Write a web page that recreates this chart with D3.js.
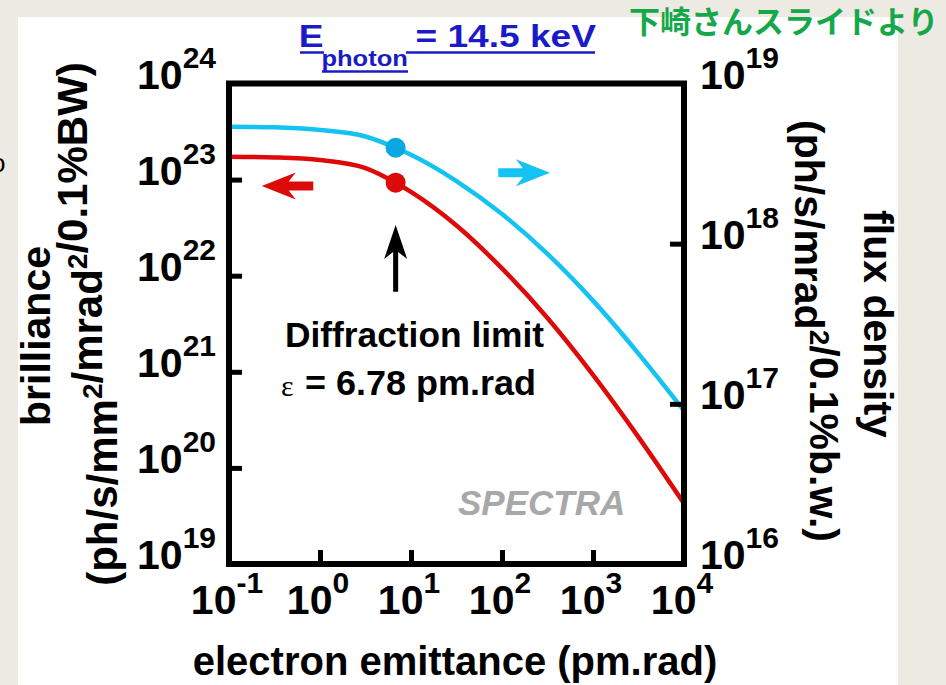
<!DOCTYPE html>
<html><head><meta charset="utf-8">
<script src="https://cdn.jsdelivr.net/npm/d3@7"></script>
<style>html,body{margin:0;padding:0;background:#edeae3;} svg{display:block;}</style>
</head><body>
<svg id="chart" width="946" height="685"></svg>
<script>
// ---- data ----
const emittance   = [0.1, 0.316, 1, 3.16, 6.78, 10, 31.6, 100, 316, 1000, 3160, 10000];      // pm.rad
const brilliance  = [1.73e23, 1.70e23, 1.60e23, 1.32e23, 9.29e22, 7.45e22, 3.33e22, 1.19e22, 3.63e21, 9.29e20, 2.09e20, 4.26e19];
const fluxDensity = [5.37e18, 5.33e18, 5.13e18, 4.67e18, 3.97e18, 3.59e18, 2.46e18, 1.53e18, 8.63e17, 4.41e17, 2.06e17, 9.06e16];
const diffractionLimit = 6.78;
const xTickExp = [-1, 0, 1, 2, 3, 4];
const leftTickExp = [19, 20, 21, 22, 23, 24];
const rightTickExp = [16, 17, 18, 19];

const RED = "#dd0a0a", CYAN = "#14c3f2", CYAN_DOT = "#0aa8e2", BLUE = "#1a1ac8", GREEN = "#15a84a";
const FONT = "'Liberation Sans', Arial, sans-serif";

const svg = d3.select("#chart").attr("font-family", FONT).attr("font-weight", "bold");

// background panel
svg.append("rect").attr("x", 0).attr("y", 0).attr("width", 946).attr("height", 685).attr("fill", "#edeae3");
svg.append("rect").attr("x", 18).attr("y", 17).attr("width", 880).attr("height", 668).attr("fill", "#ffffff");
// stray glyph from neighbouring slide content
svg.append("text").attr("x", -9).attr("y", 172).attr("font-size", 26).attr("font-weight", "normal").attr("fill", "#000").text("o");

const L = 229, R = 684, T = 83.5, B = 564;
const x = d3.scaleLog().domain([0.1, 1e4]).range([L, R]);
const yL = d3.scaleLog().domain([1e19, 1e24]).range([B, T]);
const yR = d3.scaleLog().domain([1e16, 1e19]).range([B, T]);

const pts = emittance.map((e, i) => ({e, b: brilliance[i], f: fluxDensity[i]}));

// curves
const lineB = d3.line().x(d => x(d.e)).y(d => yL(d.b)).curve(d3.curveMonotoneX);
const lineF = d3.line().x(d => x(d.e)).y(d => yR(d.f)).curve(d3.curveMonotoneX);
svg.append("path").attr("d", lineF(pts)).attr("fill", "none").attr("stroke", CYAN).attr("stroke-width", 4.5);
svg.append("path").attr("d", lineB(pts)).attr("fill", "none").attr("stroke", RED).attr("stroke-width", 4.5);

// ticks via d3 axes (inward)
const tickStyle = g => { g.select(".domain").remove(); g.selectAll(".tick line").attr("stroke", "#000").attr("stroke-width", 5); g.selectAll(".tick text").remove(); };
svg.append("g").attr("transform", `translate(${L},0)`)
  .call(d3.axisLeft(yL).tickValues(leftTickExp.slice(1, -1).map(p => Math.pow(10, p))).tickSize(-13)).call(tickStyle);
svg.append("g").attr("transform", `translate(${R},0)`)
  .call(d3.axisRight(yR).tickValues(rightTickExp.slice(1, -1).map(p => Math.pow(10, p))).tickSize(-14)).call(tickStyle);
svg.append("g").attr("transform", `translate(0,${B})`)
  .call(d3.axisBottom(x).tickValues(xTickExp.slice(1, -1).map(p => Math.pow(10, p))).tickSize(-14)).call(tickStyle);

// frame
svg.append("rect").attr("x", L).attr("y", T).attr("width", R - L).attr("height", B - T)
  .attr("fill", "none").attr("stroke", "#000").attr("stroke-width", 6);

// dots at diffraction limit
const dl = pts.find(d => d.e === diffractionLimit);
svg.append("circle").attr("cx", x(dl.e)).attr("cy", yR(dl.f)).attr("r", 10).attr("fill", CYAN_DOT);
svg.append("circle").attr("cx", x(dl.e)).attr("cy", yL(dl.b)).attr("r", 10).attr("fill", RED);

// power-of-ten labels
function powLabel(px, py, exp, anchor) {
  const t = svg.append("text").attr("x", px).attr("y", py).attr("text-anchor", anchor).attr("font-size", 41).attr("fill", "#000");
  t.append("tspan").text("10");
  t.append("tspan").attr("dy", -21).attr("font-size", 30).text(exp);
}
leftTickExp.forEach(p => powLabel(216, yL(Math.pow(10, p)) + 5, p, "end"));
rightTickExp.forEach(p => powLabel(700, yR(Math.pow(10, p)) + 5, p, "start"));
xTickExp.forEach(p => powLabel(x(Math.pow(10, p)) - 2, 614, p, "middle"));

// axis titles
svg.append("text").attr("x", 455).attr("y", 675).attr("text-anchor", "middle").attr("font-size", 40).text("electron emittance (pm.rad)");

function rotLabel(cx, cy, angle, parts, size) {
  const t = svg.append("text").attr("transform", `translate(${cx},${cy}) rotate(${angle})`)
    .attr("text-anchor", "middle").attr("font-size", size);
  parts.forEach(([s, sup]) => {
    if (sup) { t.append("tspan").attr("dy", -15).attr("font-size", 28).text(s); t.append("tspan").attr("dy", 15).text(""); }
    else t.append("tspan").text(s);
  });
}
rotLabel(50, 336, -90, [["brilliance"]], 41);
rotLabel(117, 324, -90, [["(ph/s/mm"], ["2", 1], ["/mrad"], ["2", 1], ["/0.1%BW)"]], 42);
rotLabel(864, 324, 90, [["flux density"]], 41);
rotLabel(795, 331, 90, [["(ph/s/mrad"], ["2", 1], ["/0.1%b.w.)"]], 41);

// title (horizontally stretched like the reference)
const title = svg.append("g").attr("fill", BLUE).attr("transform", "translate(300,0) scale(1.16,1)");
title.append("text").attr("x", -1).attr("y", 46.7).attr("font-size", 32).text("E");
title.append("text").attr("x", 18.5).attr("y", 66.5).attr("font-size", 22).text("photon");
title.append("text").attr("x", 99.5).attr("y", 46.7).attr("font-size", 32).text("= 14.5 keV");
svg.append("line").attr("x1", 300).attr("x2", 324).attr("y1", 52.5).attr("y2", 52.5).attr("stroke", BLUE).attr("stroke-width", 2.5);
svg.append("line").attr("x1", 406).attr("x2", 595).attr("y1", 52.5).attr("y2", 52.5).attr("stroke", BLUE).attr("stroke-width", 2.5);
svg.append("line").attr("x1", 322).attr("x2", 408).attr("y1", 71.5).attr("y2", 71.5).attr("stroke", BLUE).attr("stroke-width", 2.5);

// Japanese note
svg.append("text").attr("x", 629).attr("y", 33).attr("font-family", "'Noto Sans CJK JP', sans-serif").attr("font-weight", "bold")
  .attr("font-size", 31).attr("fill", GREEN).text("下崎さんスライドより");

// arrows (annotation, placed in data space)
function arrow(x1, y1, x2, y2, color, shaft, headW, headL) {
  const ang = Math.atan2(y2 - y1, x2 - x1), len = Math.hypot(x2 - x1, y2 - y1);
  const g = svg.append("g").attr("transform", `translate(${x1},${y1}) rotate(${ang * 180 / Math.PI})`);
  g.append("path").attr("fill", color).attr("d",
    `M0,${-shaft/2} L${len - headL + 7},${-shaft/2} L${len - headL},${-headW/2} L${len},0 L${len - headL},${headW/2} L${len - headL + 7},${shaft/2} L0,${shaft/2} Z`);
}
arrow(x(0.843), yL(8.6e22), x(0.229), yL(8.6e22), RED, 9, 27, 34);
arrow(x(91), yR(2.77e18), x(336), yR(2.77e18), CYAN, 9, 27, 34);
arrow(x(diffractionLimit), yL(6.8e21), x(diffractionLimit), yL(3.37e22), "#000", 5, 23, 34);

// annotation text
svg.append("text").attr("x", 285).attr("y", 346.5).attr("font-size", 34.5)
  .attr("textLength", 259).attr("lengthAdjust", "spacingAndGlyphs").text("Diffraction limit");
svg.append("text").attr("x", 281).attr("y", 396).attr("font-family", "'Liberation Serif', serif").attr("font-weight", "normal")
  .attr("font-size", 30).text("ε");
svg.append("text").attr("x", 305).attr("y", 395).attr("font-size", 34.5)
  .attr("textLength", 231).attr("lengthAdjust", "spacingAndGlyphs").text("= 6.78 pm.rad");

svg.append("text").attr("x", 458).attr("y", 515).attr("font-size", 35).attr("font-style", "italic").attr("fill", "#a8a8a8").text("SPECTRA");
</script>
</body></html>
